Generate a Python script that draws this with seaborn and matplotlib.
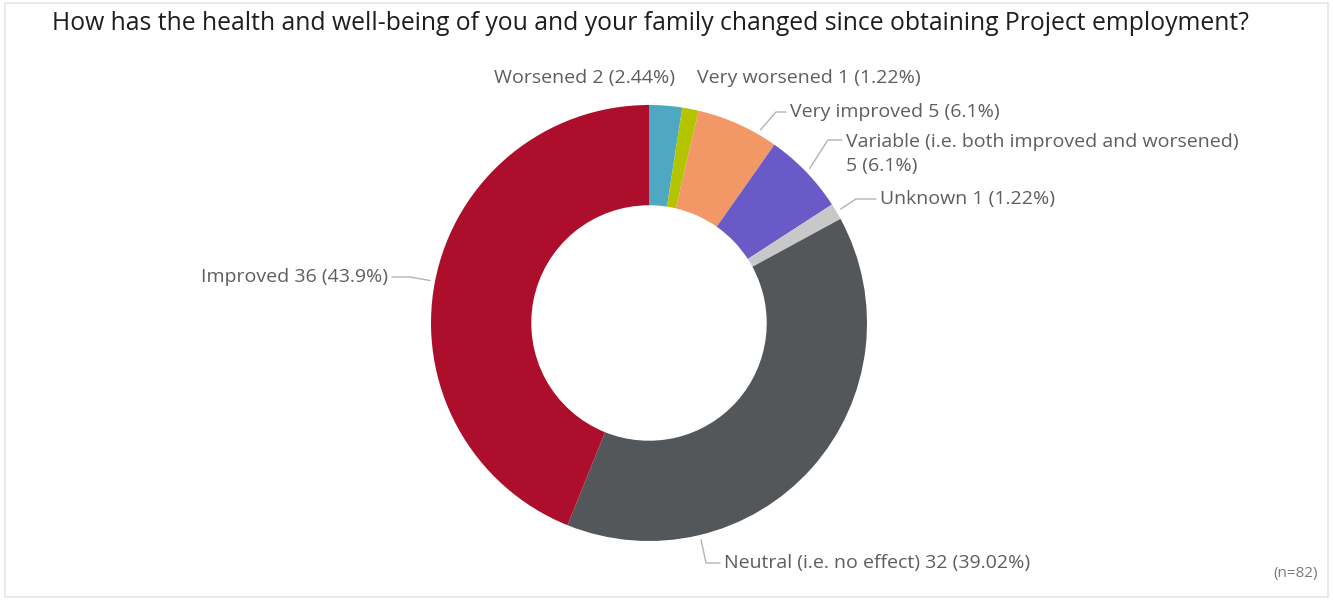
import numpy as np
import matplotlib
matplotlib.use("Agg")
import matplotlib.pyplot as plt
import seaborn as sns
from matplotlib.patches import Rectangle

categories = ["Worsened", "Very worsened", "Very improved",
              "Variable (i.e. both improved and worsened)", "Unknown",
              "Neutral (i.e. no effect)", "Improved"]
counts = [2, 1, 5, 5, 1, 32, 36]
pct_labels = ["2.44%", "1.22%", "6.1%", "6.1%", "1.22%", "39.02%", "43.9%"]
colors = ["#4EA8C2", "#B5C400", "#F29766", "#6A5AC8", "#C8C8C8", "#53575A", "#AD0E2C"]
title = "How has the health and well-being of you and your family changed since obtaining Project employment?"
note = "(n=82)"

sns.set_theme(style="white")
plt.rcParams['font.family'] = ['Open Sans', 'DejaVu Sans']

W, H = 1333, 600
fig = plt.figure(figsize=(W / 100, H / 100), dpi=100)
ax = fig.add_axes([0, 0, 1, 1])

fig.patches.append(Rectangle((5 / W, 3 / H), 1323 / W, 594 / H, transform=fig.transFigure,
                             fill=False, edgecolor="#E6E6E6", linewidth=1.2))

cx, cy, R = 649, H - 323, 218
ax.pie(counts, colors=colors, startangle=90, counterclock=False,
       center=(cx, cy), radius=R, frame=True,
       wedgeprops=dict(width=R * 0.46, linewidth=0))
ax.set_xlim(0, W)
ax.set_ylim(0, H)
ax.set_aspect("equal")
ax.axis("off")

total = sum(counts)
cum = np.cumsum([0] + counts[:-1])
mid_angles = [90 - 360 * (c + v / 2) / total for c, v in zip(cum, counts)]

txtc = "#605E5C"
fs = 14
# layout: (text x, text y (pixel from top), ha, elbow (px), end (px), anchor override angle)
layout = [
    (494, 78, "left", None, None, None),
    (697, 78, "left", None, None, None),
    (790, 112, "left", (776, 112), (786, 112), 60),
    (846, 154, "left", (828, 140), (842, 140), None),
    (880, 199, "left", (856, 199), (876, 199), None),
    (724, 563, "left", (706, 563), (720, 563), -76.5),
    (388, 277, "right", (410, 277), (392, 277), None),
]

for i, (tx, ty, ha, elbow, end, ang) in enumerate(layout):
    lab = f"{categories[i]} {counts[i]} ({pct_labels[i]})"
    if i == 3:
        lab = f"{categories[i]}\n{counts[i]} ({pct_labels[i]})"
    ax.text(tx, H - ty, lab, ha=ha, va="center", fontsize=fs, color=txtc, linespacing=1.45)
    if elbow is not None:
        a = np.deg2rad(ang if ang is not None else mid_angles[i])
        sx, sy = cx + (R + 5) * np.cos(a), cy + (R + 5) * np.sin(a)
        ax.plot([sx, elbow[0], end[0]], [sy, H - elbow[1], H - end[1]],
                color="#B3B3B3", linewidth=1)

ax.text(52, H - 24, title, ha="left", va="center", fontsize=17.8, color="#1E1E1E")
ax.text(1318, H - 573, note, ha="right", va="center", fontsize=11, color="#7A7A7A")

fig.savefig("out.png", dpi=100)
